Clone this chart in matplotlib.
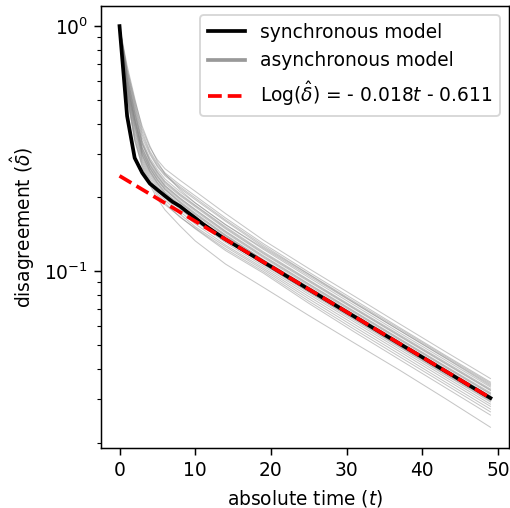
import numpy as np
import matplotlib
matplotlib.use('Agg')
import matplotlib.pyplot as plt
from matplotlib.lines import Line2D

# synchronous model, one value per time step t = 0..49
t_sync = list(range(50))
sync = [1.0, 0.43, 0.29, 0.252, 0.228, 0.215, 0.203, 0.192, 0.184, 0.174,
        0.165, 0.156, 0.1485, 0.1415, 0.1349, 0.1293, 0.1239, 0.1187, 0.1138, 0.109,
        0.1045, 0.1001, 0.0959, 0.0919, 0.0881, 0.0844, 0.0809, 0.0775, 0.0743, 0.0712,
        0.0682, 0.0654, 0.0627, 0.06, 0.0575, 0.0551, 0.0528, 0.0506, 0.0485, 0.0465,
        0.0446, 0.0427, 0.0409, 0.0392, 0.0376, 0.036, 0.0345, 0.0331, 0.0317, 0.0304]

# asynchronous runs at these times
t_async = [0, 1, 2, 3, 4, 5, 6, 8, 10, 14, 19, 25, 31, 37, 43, 49]
async_runs = [
    [1, .69, .51, .38, .32, .285, .262, .235, .212, .172, .134, .1026, .0792, .061, .0471, .0365],
    [1, .66, .49, .37, .31, .275, .252, .225, .203, .165, .1296, .0992, .0765, .0589, .0455, .0353],
    [1, .64, .47, .35, .30, .267, .245, .218, .196, .16, .1257, .0971, .0744, .0574, .0445, .0345],
    [1, .62, .46, .34, .29, .26, .238, .211, .19, .155, .1229, .0943, .0727, .0561, .0435, .0337],
    [1, .63, .45, .335, .285, .255, .233, .207, .186, .152, .1201, .0923, .0712, .0551, .0427, .0331],
    [1, .61, .44, .33, .28, .25, .228, .203, .183, .149, .1178, .0907, .0701, .0542, .042, .0326],
    [1, .60, .43, .32, .275, .246, .224, .199, .179, .146, .1158, .089, .0688, .0532, .0412, .032],
    [1, .59, .42, .315, .27, .242, .221, .196, .176, .1435, .1136, .0875, .0677, .0524, .0406, .0315],
    [1, .58, .415, .31, .266, .238, .218, .193, .173, .141, .1115, .0862, .0667, .0516, .04, .031],
    [1, .57, .41, .305, .262, .235, .215, .19, .17, .139, .1098, .0846, .0654, .0506, .0392, .0304],
    [1, .56, .40, .30, .258, .231, .211, .187, .167, .1365, .108, .0832, .0644, .0497, .0385, .0299],
    [1, .55, .39, .295, .254, .227, .207, .183, .164, .134, .1065, .082, .0633, .0489, .0378, .0293],
    [1, .545, .38, .29, .25, .223, .203, .179, .16, .131, .1049, .0806, .0622, .048, .0371, .0287],
    [1, .54, .37, .285, .245, .219, .199, .175, .156, .128, .1031, .0789, .0608, .047, .0363, .0281],
    [1, .53, .36, .28, .24, .214, .195, .171, .152, .126, .1015, .0772, .0594, .0459, .0354, .0274],
    [1, .52, .35, .275, .235, .209, .19, .166, .150, .1235, .0998, .0755, .058, .0448, .0346, .0267],
    [1, .51, .34, .27, .23, .204, .187, .167, .149, .1215, .0983, .074, .0566, .0436, .0336, .0259],
    [1, .53, .345, .265, .225, .198, .178, .153, .133, .107, .086, .066, .051, .0395, .0303, .0231],
    [1, .65, .48, .36, .305, .27, .248, .221, .199, .162, .1275, .0975, .0752, .0582, .045, .0349],
    [1, .615, .445, .33, .283, .253, .231, .205, .185, .1505, .1189, .0916, .0706, .0546, .0423, .0328],
    [1, .595, .425, .318, .272, .244, .223, .198, .178, .145, .1147, .0884, .0683, .0528, .0409, .0317],
    [1, .575, .412, .308, .264, .236, .216, .191, .1715, .14, .1111, .0858, .0664, .0513, .0397, .0307],
    [1, .56, .395, .298, .256, .229, .209, .185, .1655, .135, .1073, .0826, .0639, .0493, .0381, .0296],
    [1, .67, .50, .39, .325, .28, .25, .215, .19, .155, .1243, .0958, .0741, .0573, .0443, .0341],
]

# fitted line, end points
t_fit = [0, 49]
fit = [0.245, 0.0304]

fit_label = r'Log($\hat{\delta}$) = - 0.018$t$ - 0.611'

fig = plt.figure(figsize=(510 / 134, 508 / 134), dpi=134)
ax = fig.add_axes([0.198, 0.118, 0.8, 0.87])

for run in async_runs:
    ax.plot(t_async, run, color='gray', lw=0.55, alpha=0.45, zorder=1)

ax.plot(t_sync, sync, color='black', lw=2, zorder=2)
ax.plot(t_fit, fit, color='red', lw=2, ls='--', zorder=3)

ax.set_yscale('log')
ax.set_xlim(-2.45, 51.45)
ax.set_ylim(0.019, 1.207)

ax.set_xlabel('absolute time ($t$)')
ax.set_ylabel(r'disagreement ($\hat{\delta}$)')

handles = [Line2D([], [], color='black', lw=2),
           Line2D([], [], color='#999999', lw=2),
           Line2D([], [], color='red', lw=2, ls='--')]
ax.legend(handles, ['synchronous model', 'asynchronous model', fit_label],
          loc='upper right')

fig.savefig('out.png', dpi=134)
